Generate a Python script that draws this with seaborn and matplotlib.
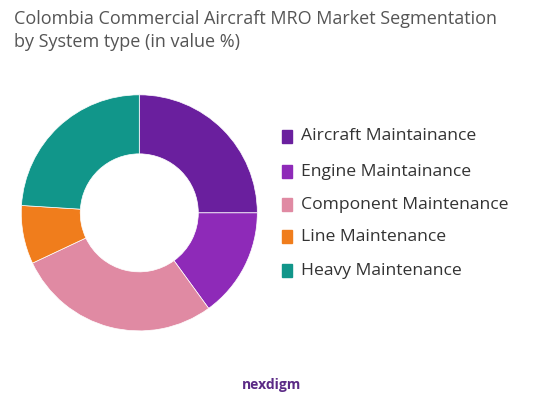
import matplotlib
matplotlib.use("Agg")
import matplotlib.pyplot as plt
import seaborn as sns

sns.set_theme(style="white")
plt.rcParams['font.family'] = ['Open Sans', 'DejaVu Sans']

labels = ["Aircraft Maintainance", "Engine Maintainance", "Component Maintenance",
          "Line Maintenance", "Heavy Maintenance"]
values = [25, 15, 28, 8, 24]
colors = ["#6a1f9e", "#8e2ab8", "#e08aa3", "#f07d1c", "#11968a"]

fig = plt.figure(figsize=(5.43, 4.07), dpi=100)
ax = fig.add_axes([0.039, 0.187, 0.435, 0.58])
ax.pie(values, colors=colors, startangle=90, counterclock=False, radius=1.0,
       wedgeprops=dict(width=0.5, edgecolor="white", linewidth=0.5))
ax.set_xlim(-1, 1)
ax.set_ylim(-1, 1)
ax.set_aspect("equal")

fig.text(0.025, 0.975, "Colombia Commercial Aircraft MRO Market Segmentation\nby System type (in value %)",
         fontsize=13, color="#555555", va="top", linespacing=1.35)

ys = [0.665, 0.578, 0.497, 0.418, 0.335]
for lab, c, y in zip(labels, colors, ys):
    fig.patches.append(plt.Rectangle((0.52, y - 0.016), 0.017, 0.032, color=c,
                                     transform=fig.transFigure, figure=fig))
    fig.text(0.555, y, lab, fontsize=12.6, color="#333333", va="center")

fig.text(0.5, 0.045, "nexdigm", fontsize=10, color="#5b2a86", ha="center", weight="bold")
fig.savefig("out.png", dpi=100)
